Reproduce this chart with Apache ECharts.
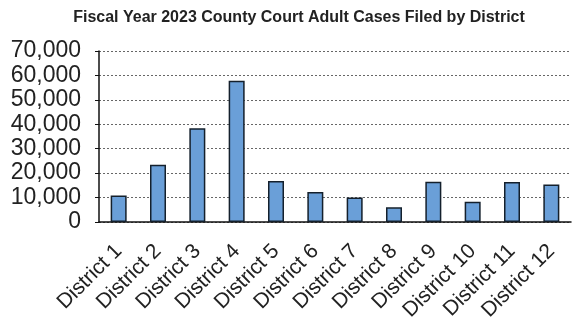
<!DOCTYPE html>
<html>
<head>
<meta charset="utf-8">
<script src="https://cdn.jsdelivr.net/npm/echarts@6/dist/echarts.min.js"></script>
<style>
  html, body { margin: 0; padding: 0; background: #fff; }
  #chart { width: 572px; height: 331px; }
</style>
</head>
<body>
<div id="chart"></div>
<script>
var districts = ["District 1", "District 2", "District 3", "District 4", "District 5", "District 6",
  "District 7", "District 8", "District 9", "District 10", "District 11", "District 12"];
var casesFiled = [10800, 23400, 38400, 57800, 16800, 12300, 10000, 6000, 16500, 8300, 16400, 15300];
var yTicks = [0, 10000, 20000, 30000, 40000, 50000, 60000, 70000];

var chart = echarts.init(document.getElementById("chart"));
chart.setOption({
  animation: false,
  title: {
    text: "Fiscal Year 2023 County Court Adult Cases Filed by District",
    left: 294,
    textAlign: "center",
    top: 5,
    textStyle: {
      fontFamily: "Liberation Sans, Arial",
      fontSize: 16,
      fontWeight: "bold",
      color: "#222",
    },
  },
  grid: {
    left: 99,
    right: 1,
    top: 51,
    bottom: 109,
    containLabel: false,
  },
  xAxis: {
    type: "category",
    data: districts,
    axisLine: {
      lineStyle: { color: "#111", width: 1.5 },
    },
    axisTick: {
      alignWithLabel: true,
      length: 5,
      lineStyle: { color: "#111", width: 2 },
    },
    axisLabel: {
      interval: 0,
      rotate: 45,
      margin: 26,
      fontFamily: "Liberation Sans, Arial",
      fontSize: 21,
      color: "#222",
    },
  },
  yAxis: {
    type: "value",
    min: yTicks[0],
    max: yTicks[yTicks.length - 1],
    interval: 10000,
    axisLine: {
      show: true,
      lineStyle: { color: "#111", width: 1.5 },
    },
    axisTick: {
      show: true,
      length: 4,
      lineStyle: { color: "#111", width: 1 },
    },
    axisLabel: {
      margin: 18,
      fontFamily: "Liberation Sans, Arial",
      fontSize: 23,
      color: "#222",
      formatter: function (v) {
        return v.toLocaleString("en-US");
      },
    },
    splitLine: {
      lineStyle: { color: "#666", width: 1, type: [2, 2] },
    },
  },
  series: [
    {
      type: "bar",
      data: casesFiled,
      barWidth: 16,
      itemStyle: {
        color: "#6a9fd8",
        borderColor: "#14202c",
        borderWidth: 1.5,
      },
    },
  ],
});
</script>
</body>
</html>
